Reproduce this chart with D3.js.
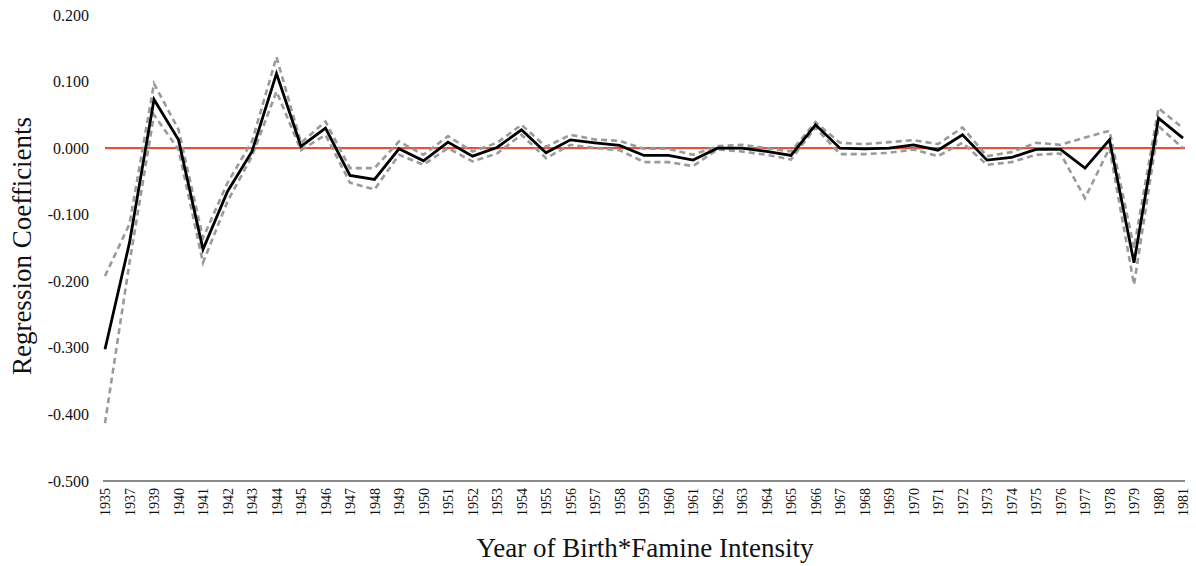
<!DOCTYPE html>
<html><head><meta charset="utf-8">
<script src="https://cdn.jsdelivr.net/npm/d3@7/dist/d3.min.js"></script>
<style>body{margin:0;background:#fff}svg{display:block}</style>
</head><body>
<svg id="chart" width="1196" height="566"></svg>
<script>
const years = ["1935","1937","1939","1940","1941","1942","1943","1944","1945","1946","1947","1948","1949","1950","1951","1952","1953","1954","1955","1956","1957","1958","1959","1960","1961","1962","1963","1964","1965","1966","1967","1968","1969","1970","1971","1972","1973","1974","1975","1976","1977","1978","1979","1980","1981"];
const coef  = [-0.302,-0.142,0.073,0.0125,-0.152,-0.065,-0.005,0.112,0.0025,0.030,-0.041,-0.047,-0.001,-0.019,0.009,-0.012,0.001,0.0275,-0.007,0.0125,0.008,0.004,-0.011,-0.011,-0.018,0.0,0.0,-0.005,-0.011,0.035,0.0,-0.001,0.0,0.005,-0.003,0.020,-0.018,-0.014,-0.002,-0.002,-0.030,0.0125,-0.172,0.045,0.015];
const upper = [-0.192,-0.114,0.097,0.028,-0.135,-0.052,0.010,0.137,0.008,0.040,-0.030,-0.030,0.010,-0.010,0.018,-0.005,0.008,0.035,0.002,0.020,0.013,0.011,-0.001,-0.001,-0.010,0.003,0.005,0.0,-0.005,0.039,0.008,0.006,0.009,0.012,0.006,0.031,-0.012,-0.006,0.008,0.005,0.016,0.026,-0.150,0.060,0.030];
const lower = [-0.413,-0.172,0.050,-0.002,-0.172,-0.080,-0.012,0.085,-0.003,0.020,-0.052,-0.062,-0.010,-0.025,0.000,-0.020,-0.008,0.020,-0.015,0.005,0.000,-0.003,-0.021,-0.021,-0.027,-0.002,-0.005,-0.010,-0.017,0.031,-0.009,-0.009,-0.007,-0.002,-0.012,0.008,-0.025,-0.021,-0.010,-0.008,-0.075,0.000,-0.205,0.033,0.000];
const yTicks = [0.2,0.1,0,-0.1,-0.2,-0.3,-0.4,-0.5];

const svg = d3.select("#chart");
const x = d3.scalePoint().domain(years).range([105,1183]);
const y = d3.scaleLinear().domain([-0.5,0.2]).range([481,15]);
const font = "'Liberation Serif','Times New Roman',serif";

// y tick labels
const fmt = d => (d < 0 ? "-" : "") + Math.abs(d).toFixed(3);
const yAxis = d3.axisLeft(y).tickValues(yTicks).tickFormat(fmt).tickSize(0).tickPadding(0);
const gy = svg.append("g").attr("transform","translate(89,0)").call(yAxis);
gy.select(".domain").remove();
gy.selectAll("text").attr("font-family",font).attr("font-size",16).attr("fill","#111");

// x axis
const xAxis = d3.axisBottom(x).tickSize(0).tickPadding(0);
const gx = svg.append("g").attr("transform","translate(0,481)").call(xAxis);
gx.select(".domain").attr("stroke","#8a8a8a").attr("stroke-width",2).attr("d","M103,0H1185");
gx.selectAll("text").attr("font-family",font).attr("font-size",14).attr("fill","#111")
  .attr("transform","rotate(-90)").attr("text-anchor","end").attr("dy","0.33em").attr("x",-7).attr("y",0);

// zero line
svg.append("line").attr("x1",105).attr("x2",1185).attr("y1",y(0)).attr("y2",y(0))
  .attr("stroke","#e0533d").attr("stroke-width",2.2);

const line = arr => d3.line().x((d,i)=>x(years[i])).y(d=>y(d))(arr);
[upper, lower].forEach(arr => {
  svg.append("path").attr("d",line(arr)).attr("fill","none").attr("stroke","#9a9a9a")
    .attr("stroke-width",2.6).attr("stroke-dasharray","6,4").attr("stroke-linejoin","miter");
});
svg.append("path").attr("d",line(coef)).attr("fill","none").attr("stroke","#000")
  .attr("stroke-width",2.8).attr("stroke-linejoin","miter");

// titles
svg.append("text").attr("x",645).attr("y",557).attr("text-anchor","middle")
  .attr("font-family",font).attr("font-size",27).attr("fill","#111").text("Year of Birth*Famine Intensity");
svg.append("text").attr("transform","translate(31,246) rotate(-90)").attr("text-anchor","middle")
  .attr("font-family",font).attr("font-size",27).attr("fill","#111").text("Regression Coefficients");
</script>
</body></html>
